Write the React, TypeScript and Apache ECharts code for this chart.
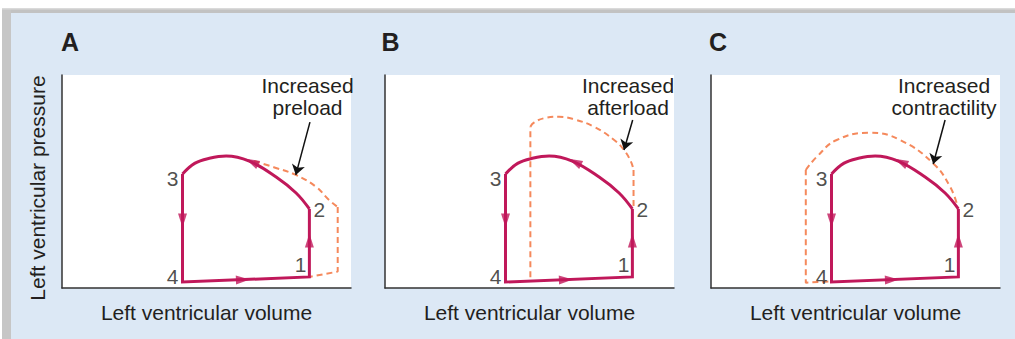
import { useEffect, useRef } from "react";
import * as echarts from "echarts";

// ---------- data ----------
const panelLetters = ["A", "B", "C"];
const annotationTexts = ["Increased\npreload", "Increased\nafterload", "Increased\ncontractility"];
const xAxisTitle = "Left ventricular volume";
const yAxisTitle = "Left ventricular pressure";

// stage points 1, 2, 3, 4 (volume, pressure in relative units 0..100)
const stageLabels = ["1", "2", "3", "4"];
const stagePoints = [
  [85.6, 5.2],
  [85.6, 37.1],
  [41.7, 53.5],
  [41.7, 2.8],
];
// 3 -> 4 -> 1 -> 2 (isovolumic relaxation, filling, isovolumic contraction)
const loopStraight = [
  [41.7, 53.5],
  [41.7, 2.8],
  [85.6, 5.2],
  [85.6, 37.1],
];
// 2 -> 3 ejection
const ejectionArc = [
  [85.6, 37.1],
  [81.0, 44.6],
  [74.1, 52.1],
  [64.8, 59.6],
  [56.8, 62.0],
  [51.0, 60.9],
  [45.9, 58.5],
  [41.7, 53.5],
];
const flowArrowPoints = [
  [41.7, 31.7],
  [62.6, 3.9],
  [85.6, 22.3],
  [65.7, 59.2],
];
const flowArrowAngles = [180, -88, 0, 64];

// A: increased preload
const preloadCurve = [
  [66.5, 59.6],
  [73.5, 56.6],
  [80.9, 53.1],
  [87.8, 47.6],
  [92.4, 41.3],
  [95.4, 38.0],
];
const preloadStraight = [
  [95.4, 38.0],
  [95.4, 7.7],
  [85.6, 5.2],
];
// B: increased afterload
const afterloadStraight = [
  [50.3, 5.0],
  [50.3, 75.7],
];
const afterloadCurve = [
  [50.3, 75.7],
  [51.5, 77.6],
  [55.0, 79.7],
  [60.2, 80.4],
  [65.4, 79.2],
  [72.3, 75.7],
  [79.3, 69.5],
  [82.7, 64.8],
  [85.1, 59.3],
  [86.0, 55.4],
];
const afterloadDrop = [
  [86.0, 55.4],
  [86.0, 37.1],
];
// C: increased contractility
const contractilityStraight = [
  [40.6, 3.0],
  [32.8, 2.5],
  [32.8, 55.4],
];
const contractilityCurve = [
  [32.8, 55.4],
  [36.6, 61.6],
  [43.5, 69.5],
  [55.0, 72.9],
  [65.4, 69.5],
  [76.9, 58.5],
  [82.7, 47.6],
  [85.3, 38.5],
];

const pointerStarts = [
  [85.8, 77.9],
  [85.7, 78.9],
  [81.0, 78.9],
];
const pointerEnds = [
  [80.9, 53.1],
  [82.7, 64.8],
  [76.9, 58.2],
];

// ---------- styles / layout ----------
const FONT = "'Liberation Sans', Arial, Helvetica, sans-serif";
const TEXT = "#231f20";
const LOOP = "#c0185a";
const DASH = "#f5895c";
const BG = "#dce8f5";
const gridLefts = [62, 385, 711];
const annotationCenters = [307.5, 628, 944];
const letterX = [61, 381.5, 709];
const labelPlacement = [
  { position: "left", distance: 3, offset: [0, -12.5] },
  { position: "right", distance: 4, offset: [0, 1] },
  { position: "left", distance: 4, offset: [0, 4] },
  { position: "left", distance: 4, offset: [0, -6] },
];

const dashedPanels = [
  { curves: [preloadCurve], straights: [preloadStraight] },
  { curves: [afterloadCurve], straights: [afterloadStraight, afterloadDrop] },
  { curves: [contractilityCurve], straights: [contractilityStraight] },
];

function buildOption() {
  const grid = gridLefts.map((l) => ({
    left: l,
    top: 75,
    width: 289,
    height: 213,
    show: true,
    backgroundColor: "#ffffff",
    borderWidth: 0,
  }));
  const axisCommon = {
    type: "value",
    min: 0,
    max: 100,
    axisLine: { show: true, onZero: false, lineStyle: { color: "#333", width: 1.5 } },
    axisTick: { show: false },
    axisLabel: { show: false },
    splitLine: { show: false },
  };
  const xAxis = gridLefts.map((_, i) => ({
    ...axisCommon,
    gridIndex: i,
    name: xAxisTitle,
    nameLocation: "middle",
    nameGap: 14,
    nameTextStyle: { fontSize: 21, color: TEXT, fontFamily: FONT },
  }));
  const yAxis = gridLefts.map((_, i) => ({ ...axisCommon, gridIndex: i }));

  const series: any[] = [];
  gridLefts.forEach((_, i) => {
    const axes = { xAxisIndex: i, yAxisIndex: i };
    const dashStyle = { color: DASH, width: 2, type: [6, 4] };
    dashedPanels[i].curves.forEach((d) =>
      series.push({ type: "line", ...axes, data: d, smooth: 0.45, symbol: "none", lineStyle: dashStyle, z: 2 })
    );
    dashedPanels[i].straights.forEach((d) =>
      series.push({ type: "line", ...axes, data: d, symbol: "none", lineStyle: dashStyle, z: 2 })
    );
    series.push({
      type: "line",
      ...axes,
      data: loopStraight,
      symbol: "none",
      lineStyle: { color: LOOP, width: 3, join: "miter" },
      z: 3,
    });
    series.push({
      type: "line",
      ...axes,
      data: ejectionArc,
      smooth: 0.4,
      symbol: "none",
      lineStyle: { color: LOOP, width: 3 },
      z: 3,
    });
    series.push({
      type: "scatter",
      ...axes,
      symbol: "triangle",
      symbolSize: [9, 14],
      itemStyle: { color: LOOP },
      data: flowArrowPoints.map((p, k) => ({ value: p, symbolRotate: flowArrowAngles[k] })),
      z: 4,
      silent: true,
      markLine: {
        silent: true,
        symbol: ["none", "arrow"],
        symbolSize: 10,
        label: { show: false },
        lineStyle: { color: "#111", width: 1.5, type: "solid" },
        data: [[{ coord: pointerStarts[i] }, { coord: pointerEnds[i] }]],
      },
    });
    series.push({
      type: "scatter",
      ...axes,
      symbolSize: 0,
      silent: true,
      data: stagePoints.map((p, k) => ({
        value: p,
        name: stageLabels[k],
        label: {
          show: true,
          formatter: stageLabels[k],
          position: labelPlacement[k].position,
          distance: labelPlacement[k].distance,
          offset: labelPlacement[k].offset,
          fontSize: 21,
          color: TEXT,
          fontFamily: FONT,
        },
      })),
      z: 5,
    });
  });

  const graphic: any[] = [
    { type: "rect", shape: { x: 0, y: 0, width: 1015, height: 8 }, style: { fill: "#ffffff" }, silent: true },
    { type: "rect", shape: { x: 0, y: 0, width: 2, height: 339 }, style: { fill: "#ffffff" }, silent: true },
    { type: "rect", shape: { x: 2, y: 8, width: 1013, height: 5 }, style: { fill: "#c2c2c2" }, silent: true },
    { type: "rect", shape: { x: 2, y: 8, width: 9, height: 331 }, style: { fill: "#c6c6c6" }, silent: true },
    { type: "rect", shape: { x: 2, y: 8, width: 1013, height: 1.5 }, style: { fill: "#dadada" }, silent: true },
    {
      type: "text",
      x: 37.5,
      y: 188,
      rotation: Math.PI / 2,
      style: {
        text: yAxisTitle,
        fontSize: 21,
        fontFamily: FONT,
        fill: TEXT,
        align: "center",
        verticalAlign: "middle",
      },
      silent: true,
    },
  ];
  panelLetters.forEach((t, i) => {
    graphic.push({
      type: "text",
      x: letterX[i],
      y: 42,
      style: {
        text: t,
        fontSize: 25,
        fontWeight: "bold",
        fontFamily: FONT,
        fill: TEXT,
        align: "left",
        verticalAlign: "middle",
      },
      silent: true,
    });
    graphic.push({
      type: "text",
      x: annotationCenters[i],
      y: 73.75,
      style: {
        text: annotationTexts[i],
        fontSize: 21,
        lineHeight: 22.5,
        fontFamily: FONT,
        fill: TEXT,
        align: "center",
        verticalAlign: "top",
      },
      silent: true,
    });
  });

  return {
    animation: false,
    backgroundColor: BG,
    textStyle: { fontFamily: FONT },
    grid,
    xAxis,
    yAxis,
    series,
    graphic,
  };
}

export default function App() {
  const ref = useRef<HTMLDivElement>(null);
  useEffect(() => {
    if (!ref.current) return;
    const chart = echarts.init(ref.current, undefined, { renderer: "svg" });
    chart.setOption(buildOption() as any);
    return () => chart.dispose();
  }, []);
  return (
    <div
      ref={ref}
      style={{ position: "fixed", left: 0, top: 0, width: 1015, height: 339 }}
    />
  );
}
